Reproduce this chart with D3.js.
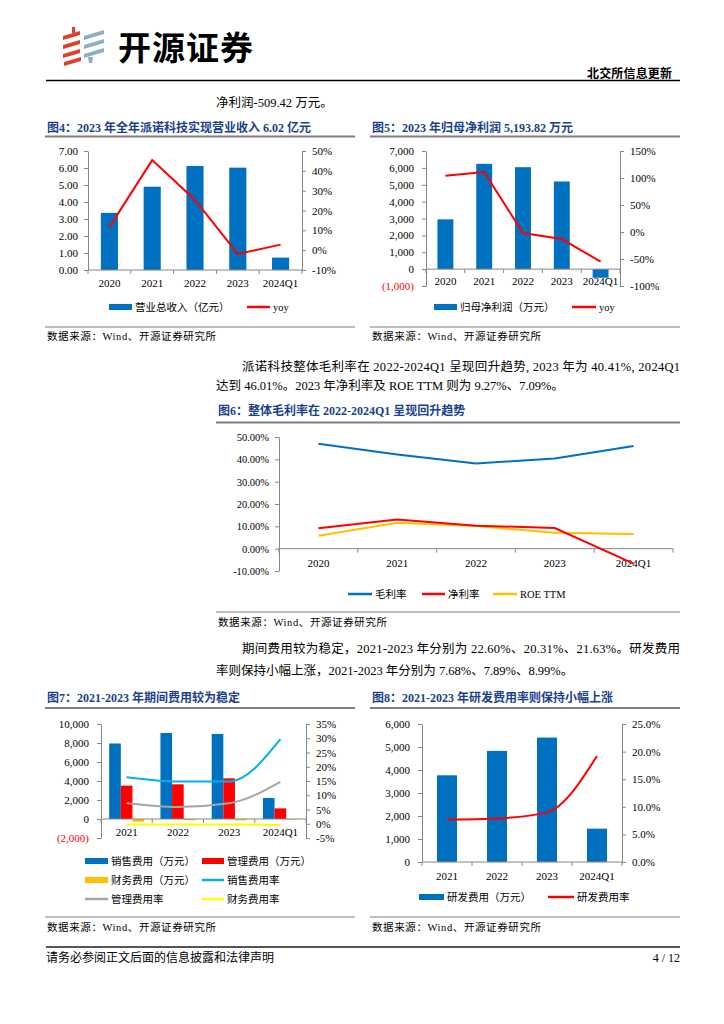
<!DOCTYPE html>
<html>
<head>
<meta charset="utf-8">
<script src="https://cdn.jsdelivr.net/npm/d3@7"></script>
<style>
  body { margin: 0; background: #fff; }
  svg text { font-family: "Liberation Serif", "Noto Sans CJK SC", serif; }
</style>
</head>
<body>
<svg id="page" width="724" height="1024"></svg>
<script>
// ---- data ----
var years5 = ["2020", "2021", "2022", "2023", "2024Q1"];
var years4 = ["2021", "2022", "2023", "2024Q1"];

// fig 4: revenue (亿元) and yoy (%)
var revenue = [3.36, 4.90, 6.12, 6.02, 0.73];
var revenueYoy = [11.6, 45.4, 25.3, -1.9, 2.8];
// fig 5: net profit attributable (万元) and yoy (%)
var netProfit = [2950, 6240, 6040, 5193.82, -509.42];
var netProfitYoy = [104, 111, -2, -13, -55];
// fig 6: margins (%)
var grossMargin = [47.0, 42.2, 38.1, 40.41, 46.01];
var netMargin = [9.1, 13.1, 10.3, 9.27, -6.7];
var roeTtm = [5.8, 11.6, 10.1, 7.09, 6.6];
// fig 7: expenses (万元) and rates (%)
var salesExp = [7950, 9050, 8950, 2210];
var adminExp = [3510, 3650, 4280, 1120];
var finExp = [-280, -130, -140, -60];
var salesRate = [16.3, 14.8, 14.8, 29.7];
var adminRate = [7.2, 5.9, 7.2, 14.7];
var finRate = [-0.3, -0.3, -0.3, -0.4];
// fig 8: R&D expense (万元) and rate (%)
var rdExp = [3770, 4830, 5410, 1450];
var rdRate = [7.68, 7.89, 8.99, 19.2];

// tick values
var ticks4L = [0, 1, 2, 3, 4, 5, 6, 7];
var ticks4R = [-10, 0, 10, 20, 30, 40, 50];
var ticks5L = [-1000, 0, 1000, 2000, 3000, 4000, 5000, 6000, 7000];
var ticks5R = [-100, -50, 0, 50, 100, 150];
var ticks6 = [-10, 0, 10, 20, 30, 40, 50];
var ticks7L = [-2000, 0, 2000, 4000, 6000, 8000, 10000];
var ticks7R = [-5, 0, 5, 10, 15, 20, 25, 30, 35];
var ticks8L = [0, 1000, 2000, 3000, 4000, 5000, 6000];
var ticks8R = [0, 5, 10, 15, 20, 25];

var BLUE = "#0070C0", RED = "#FF0000", ORANGE = "#FFC000";
var TITLE = "#1c3f8c", AXIS = "#868686";

var svg = d3.select("#page");

function text(x, y, s, size, opts) {
  opts = opts || {};
  var t = svg.append("text")
    .attr("x", x).attr("y", y)
    .style("font-size", size + "px")
    .attr("fill", opts.fill || "#000")
    .attr("text-anchor", opts.anchor || "start")
    .text(s);
  if (opts.bold) t.style("font-weight", "bold");
  if (opts.len) t.attr("textLength", opts.len).attr("lengthAdjust", "spacing");
  if (opts.ls) t.style("letter-spacing", opts.ls + "px");
  return t;
}

function hline(x1, x2, y, w, c) {
  svg.append("line").attr("x1", x1).attr("x2", x2).attr("y1", y).attr("y2", y)
    .attr("stroke", c).attr("stroke-width", w);
}

// ---- page header ----
var logo = svg.append("g");
[[63, 36], [63, 45], [63, 54], [64, 62]].forEach(function(p) {
  logo.append("path")
    .attr("d", "M" + p[0] + "," + p[1] + " L" + (p[0] + 17) + "," + (p[1] - 5) + " L" + (p[0] + 17) + "," + (p[1] - 1) + " L" + p[0] + "," + (p[1] + 4) + "Z")
    .attr("fill", "#e0402b");
});
logo.append("rect").attr("x", 72).attr("y", 27).attr("width", 3).attr("height", 6).attr("fill", "#e0402b");
[[84, 36], [84, 45], [84, 54]].forEach(function(p) {
  logo.append("path")
    .attr("d", "M" + p[0] + "," + p[1] + " L" + (p[0] + 20) + "," + (p[1] - 6) + " L" + (p[0] + 20) + "," + (p[1] - 2) + " L" + p[0] + "," + (p[1] + 4) + "Z")
    .attr("fill", "#8eaec4");
});
logo.append("path").attr("d", "M88,57 L93,57 L92,63 L89,63Z").attr("fill", "#8eaec4");

text(118, 60, "开源证券", 33, { bold: true }).style("font-family", "'Noto Sans CJK SC'").attr("textLength", 135);
text(672, 78, "北交所信息更新", 12, { bold: true, anchor: "end" }).attr("textLength", 85);
hline(46, 680, 80.5, 1.5, "#000");

text(216, 107, "净利润-509.42 万元。", 12.5);

// ---- generic combo chart ----
function combo(o) {
  var g = svg.append("g");
  var x = d3.scaleBand().domain(o.cats).range([o.x0, o.x1]);
  var yL = d3.scaleLinear().domain(o.left).range([o.y1, o.y0]);
  var yR = o.right ? d3.scaleLinear().domain(o.right).range([o.y1, o.y0]) : null;
  var bw = x.bandwidth();

  // bars
  var nb = o.bars.length;
  var inner = d3.scaleBand().domain(d3.range(nb))
    .range([bw * (1 - o.barFrac) / 2, bw * (1 + o.barFrac) / 2]);
  o.bars.forEach(function(b, i) {
    g.selectAll(null).data(b.values).enter().append("rect")
      .attr("x", function(d, j) { return x(o.cats[j]) + inner(i); })
      .attr("width", inner.bandwidth())
      .attr("y", function(d) { return yL(Math.max(0, d)); })
      .attr("height", function(d) { return Math.abs(yL(d) - yL(0)); })
      .attr("fill", b.color);
  });

  // left axis
  var ax = g.append("g").attr("transform", "translate(" + o.x0 + ",0)")
    .call(d3.axisLeft(yL).tickValues(o.ticksL).tickFormat(o.fmtL).tickSize(4).tickSizeOuter(0).tickPadding(o.padL || 6));
  styleAxis(ax, o.fs || 11);
  if (o.negRed) ax.selectAll(".tick text").attr("fill", function(d) { return d < 0 ? "#FF0000" : "#000"; });

  if (yR) {
    var axr = g.append("g").attr("transform", "translate(" + o.x1 + ",0)")
      .call(d3.axisRight(yR).tickValues(o.ticksR).tickFormat(o.fmtR).tickSize(4).tickSizeOuter(0).tickPadding(o.padR || 6));
    styleAxis(axr, o.fs || 11);
  }

  // category axis at zero
  var y0 = yL(0);
  g.append("line").attr("x1", o.x0).attr("x2", o.x1).attr("y1", y0).attr("y2", y0)
    .attr("stroke", AXIS).attr("stroke-width", 1);
  var bounds = o.cats.map(function(c) { return x(c); }).concat([o.x1]);
  g.selectAll(null).data(bounds).enter().append("line")
    .attr("x1", function(d) { return d; }).attr("x2", function(d) { return d; })
    .attr("y1", y0).attr("y2", y0 + 4)
    .attr("stroke", AXIS);
  g.selectAll(null).data(o.cats).enter().append("text")
    .attr("x", function(d) { return x(d) + bw / 2; })
    .attr("y", o.labelY)
    .attr("text-anchor", "middle")
    .style("font-size", "11px")
    .text(function(d) { return d; });

  // lines
  o.lines.forEach(function(l) {
    var ys = l.axis === "L" ? yL : yR;
    var line = d3.line()
      .x(function(d, j) { return x(o.cats[j]) + bw / 2; })
      .y(function(d) { return ys(d); })
      .curve(l.smooth ? d3.curveMonotoneX : d3.curveLinear);
    g.append("path").datum(l.values)
      .attr("d", line)
      .attr("fill", "none")
      .attr("stroke", l.color)
      .attr("stroke-width", 2);
  });
}

function styleAxis(sel, fs) {
  sel.attr("font-family", null).attr("font-size", null);
  sel.select(".domain").attr("stroke", AXIS);
  sel.selectAll(".tick line").attr("stroke", AXIS);
  sel.selectAll(".tick text").attr("fill", "#000").style("font-size", fs + "px");
}

function legend(items, size) {
  items.forEach(function(it) {
    if (it.type === "rect") {
      svg.append("rect").attr("x", it.x).attr("y", it.y - 3).attr("width", it.w).attr("height", 6).attr("fill", it.color);
    } else {
      svg.append("line").attr("x1", it.x).attr("x2", it.x + it.w).attr("y1", it.y).attr("y2", it.y)
        .attr("stroke", it.color).attr("stroke-width", 2.5);
    }
    text(it.x + it.w + 3, it.y + 4, it.label, size);
  });
}

function frame(x1, x2, title, titleY, lineY, srcLineY, srcY) {
  text(x1 + 2, titleY, title, 12, { bold: true, fill: TITLE });
  hline(x1, x2, lineY, 2, "#7f7f7f");
  hline(x1, x2, srcLineY, 1, "#7f7f7f");
  text(x1 + 2, srcY, "数据来源：Wind、开源证券研究所", 10.5, { ls: 0.6 });
}

var pct0 = function(d) { return d + "%"; };

// ---- fig 4 ----
frame(45, 355, "图4：2023 年全年派诺科技实现营业收入 6.02 亿元", 132, 136.5, 327, 340);
combo({
  cats: years5, x0: 88, x1: 302, y0: 151, y1: 270,
  left: [0, 7], right: [-10, 50],
  ticksL: ticks4L, ticksR: ticks4R,
  fmtL: d3.format(".2f"), fmtR: pct0,
  bars: [{ values: revenue, color: BLUE }], barFrac: 0.4,
  lines: [{ values: revenueYoy, color: RED }],
  labelY: 287
});
legend([
  { type: "rect", x: 109, y: 307, w: 23, color: BLUE, label: "营业总收入（亿元）" },
  { type: "line", x: 247, y: 307, w: 23, color: RED, label: "yoy" }
], 10.5);

// ---- fig 5 ----
frame(370, 680, "图5：2023 年归母净利润 5,193.82 万元", 132, 136.5, 327, 340);
combo({
  cats: years5, x0: 426, x1: 620, y0: 151, y1: 286,
  left: [-1000, 7000], right: [-100, 150],
  ticksL: ticks5L, ticksR: ticks5R,
  fmtL: function(d) { return d < 0 ? "(" + d3.format(",")(-d) + ")" : d3.format(",")(d); },
  fmtR: pct0, negRed: true, padL: 8, padR: 6,
  bars: [{ values: netProfit, color: BLUE }], barFrac: 0.41,
  lines: [{ values: netProfitYoy, color: RED }],
  labelY: 285
});
legend([
  { type: "rect", x: 434, y: 307, w: 23, color: BLUE, label: "归母净利润（万元）" },
  { type: "line", x: 572, y: 307, w: 24, color: RED, label: "yoy" }
], 10.5);

// ---- paragraph 1 ----
text(242, 371, "派诺科技整体毛利率在 2022-2024Q1 呈现回升趋势, 2023 年为 40.41%, 2024Q1", 12.5, { len: 438 });
text(216, 390, "达到 46.01%。2023 年净利率及 ROE TTM 则为 9.27%、7.09%。", 12.5);

// ---- fig 6 ----
frame(216, 680, "图6：整体毛利率在 2022-2024Q1 呈现回升趋势", 415, 422.5, 612, 626);
combo({
  cats: years5, x0: 279, x1: 673, y0: 437, y1: 571,
  left: [-10, 50], right: null,
  ticksL: ticks6, fmtL: function(d) { return d.toFixed(2) + "%"; },
  bars: [], barFrac: 0.4, fs: 10.5,
  lines: [
    { values: grossMargin, color: BLUE, axis: "L" },
    { values: roeTtm, color: ORANGE, axis: "L" },
    { values: netMargin, color: RED, axis: "L" }
  ],
  labelY: 567
});
legend([
  { type: "line", x: 348, y: 594, w: 24, color: BLUE, label: "毛利率" },
  { type: "line", x: 422, y: 594, w: 23, color: RED, label: "净利率" },
  { type: "line", x: 493, y: 594, w: 24, color: ORANGE, label: "ROE TTM" }
], 10.5);

// ---- paragraph 2 ----
text(242, 653, "期间费用较为稳定，2021-2023 年分别为 22.60%、20.31%、21.63%。研发费用", 12.5, { len: 438 });
text(216, 675, "率则保持小幅上涨，2021-2023 年分别为 7.68%、7.89%、8.99%。", 12.5);

// ---- fig 7 ----
frame(45, 355, "图7：2021-2023 年期间费用较为稳定", 702, 708, 917, 931);
combo({
  cats: years4, x0: 101, x1: 306, y0: 724, y1: 838,
  left: [-2000, 10000], right: [-5, 35],
  ticksL: ticks7L, ticksR: ticks7R,
  fmtL: function(d) { return d < 0 ? "(" + d3.format(",")(-d) + ")" : d3.format(",")(d); },
  fmtR: pct0, negRed: true, padL: 8,
  bars: [
    { values: salesExp, color: BLUE },
    { values: adminExp, color: RED },
    { values: finExp, color: ORANGE }
  ], barFrac: 0.68,
  lines: [
    { values: salesRate, color: "#00B0F0", smooth: true },
    { values: adminRate, color: "#A5A5A5", smooth: true },
    { values: finRate, color: "#FFFF00", smooth: true }
  ],
  labelY: 836
});
legend([
  { type: "rect", x: 85, y: 861, w: 23, color: BLUE, label: "销售费用（万元）" },
  { type: "rect", x: 202, y: 861, w: 22, color: RED, label: "管理费用（万元）" },
  { type: "rect", x: 85, y: 880, w: 23, color: ORANGE, label: "财务费用（万元）" },
  { type: "line", x: 202, y: 880, w: 22, color: "#00B0F0", label: "销售费用率" },
  { type: "line", x: 85, y: 899, w: 23, color: "#A5A5A5", label: "管理费用率" },
  { type: "line", x: 202, y: 899, w: 22, color: "#FFFF00", label: "财务费用率" }
], 10.5);

// ---- fig 8 ----
frame(370, 680, "图8：2021-2023 年研发费用率则保持小幅上涨", 702, 708, 917, 931);
combo({
  cats: years4, x0: 422, x1: 622, y0: 724, y1: 862,
  left: [0, 6000], right: [0, 25],
  ticksL: ticks8L, ticksR: ticks8R,
  fmtL: d3.format(","), fmtR: function(d) { return d.toFixed(1) + "%"; },
  padL: 8, padR: 6,
  bars: [{ values: rdExp, color: BLUE }], barFrac: 0.4,
  lines: [{ values: rdRate, color: RED, smooth: true }],
  labelY: 880
});
legend([
  { type: "rect", x: 419, y: 897, w: 25, color: BLUE, label: "研发费用（万元）" },
  { type: "line", x: 548, y: 897, w: 26, color: RED, label: "研发费用率" }
], 10.5);

// ---- footer ----
hline(46, 680, 947, 2, "#555");
text(46, 962, "请务必参阅正文后面的信息披露和法律声明", 12);
text(680, 962, "4 / 12", 12, { anchor: "end" });
</script>
</body>
</html>
